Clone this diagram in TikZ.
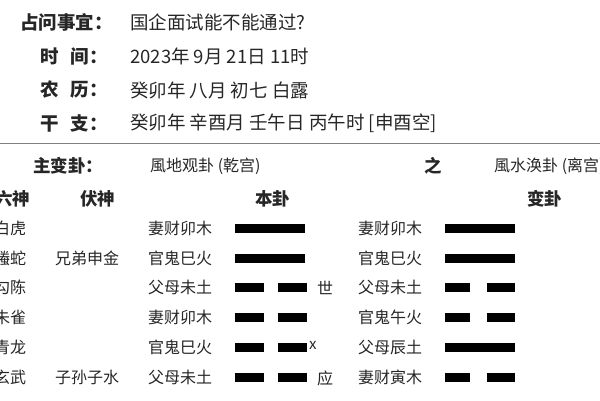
\documentclass[tikz,border=0pt]{standalone}
\usepackage{fontspec}
\setmainfont{Noto Sans CJK SC}
\begin{document}
\begin{tikzpicture}[x=1pt,y=-1pt,
  t/.style={anchor=west,inner sep=0pt,font=\fontsize{16}{16}\selectfont,text=black!85},
  hv/.style={t,font=\fontsize{18.5}{18}\selectfont},
  hb/.style={t,font=\fontsize{18.5}{18}\selectfont\bfseries},
  b/.style={t,font=\fontsize{17.5}{17}\selectfont\bfseries},
]
\useasboundingbox (0,0) rectangle (600,400);
\node[hb] (h1) at (20,22) {占问事宜：};
\node[hv] (v1) at (130,22) {国企面试能不能通过?};
\node[hb] (h2) at (40,56) {时\hspace{12pt}间：};
\node[hv] (v2) at (130,56) {2023年 9月 21日 11时};
\node[hb] (h3) at (40,90) {农\hspace{12pt}历：};
\node[hv] (v3) at (130,90) {癸卯年 八月 初七 白露};
\node[hb] (h4) at (40,123) {干\hspace{12pt}支：};
\node[hv] (v4) at (130,123) {癸卯年 辛酉月 壬午日 丙午时 [申酉空]};
\draw[black!50,line width=0.8pt] (0,143) -- (600,143);
\node[b] (zb) at (33,166) {主变卦：};
\node[t] (bg) at (150,166) {風地观卦 (乾宫)};
\node[b] (zhi) at (424,166) {之};
\node[t] (cg) at (494,166) {風水涣卦 (离宫)};
\node[b] (ls) at (-5,199) {六神};
\node[b] (fs) at (80,199) {伏神};
\node[b] (ben) at (255,199) {本卦};
\node[b] (bian) at (527,199) {变卦};
\foreach \y/\a/\f/\n/\ba/\r/\bb in {
 228/白虎//妻财卯木/1/妻财卯木/1,
 258/螣蛇/兄弟申金/官鬼巳火/1/官鬼巳火/1,
 287/勾陈//父母未土/0/父母未土/0,
 317/朱雀//妻财卯木/0/官鬼午火/0,
 347/青龙//官鬼巳火/0/父母辰土/1,
 377/玄武/子孙子水/父母未土/0/妻财寅木/0}{
  \node[t] at (-6,\y) {\a};
  \node[t] at (55,\y) {\f};
  \node[t] at (148,\y) {\n};
  \ifnum\ba=1 \fill (235,\y-4.5) rectangle (305,\y+4.5);
  \else \fill (235,\y-4.5) rectangle (264,\y+4.5); \fill (278,\y-4.5) rectangle (307,\y+4.5); \fi
  \node[t] at (358,\y) {\r};
  \ifnum\bb=1 \fill (445,\y-4.5) rectangle (515,\y+4.5);
  \else \fill (445,\y-4.5) rectangle (470,\y+4.5); \fill (487,\y-4.5) rectangle (515,\y+4.5); \fi
}
\node[t] at (317,288) {世};
\node[t,font=\fontsize{15}{15}\selectfont\rmfamily] at (309,345) {x};
\node[t] at (317,378) {应};
\end{tikzpicture}
\end{document}
